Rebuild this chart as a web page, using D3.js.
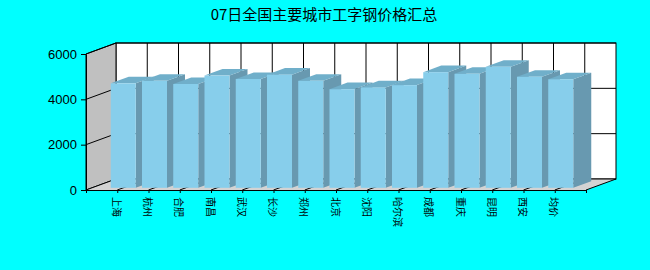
<html lang="zh">
<head>
	<meta charset="utf-8">
	<script src="https://cdn.jsdelivr.net/npm/d3@7/dist/d3.min.js"></script>
	<style>
		body { margin: 0; background: #00ffff; }
	</style>
</head>
<body>
	<script type="text/javascript">
		var w = 650;
		var h = 270;

		// chart data
		var cities = ["上海", "杭州", "合肥", "南昌", "武汉", "长沙", "郑州", "北京", "沈阳", "哈尔滨", "成都", "重庆", "昆明", "西安", "均价"];
		var prices = [4610, 4720, 4580, 4950, 4800, 4990, 4720, 4350, 4430, 4530, 5100, 5030, 5340, 4900, 4790];
		var yTicks = [0, 2000, 4000, 6000];
		var title = "07日全国主要城市工字钢价格汇总";

		var DX = 30, DY = -11; // depth of the 3d box
		var barHalf = 12.5;
		var d0 = 0.2, d1 = 0.8; // bar position inside the depth

		var svg = d3.select("body")
				.append("svg")
				.attr("width", w)
				.attr("height", h);

		var x = d3.scaleLinear().domain([0, cities.length + 1]).range([86, 586]);
		var y = d3.scaleLinear().domain([0, 6000]).range([190, 54]);

		function pts(a) { return a.map(function(p){ return p.join(","); }).join(" "); }

		svg.append("text")
			.attr("x", 324)
			.attr("y", 20)
			.attr("text-anchor", "middle")
			.style("font-family", "'Noto Sans CJK SC', sans-serif")
			.style("font-size", "15px")
			.text(title);

		var x0 = x(0), x1 = x(cities.length + 1), yb = y(0), yt = y(6000);

		// back wall
		svg.append("rect")
			.attr("x", x0 + DX).attr("y", yt + DY)
			.attr("width", x1 - x0).attr("height", yb - yt)
			.attr("fill", "white").attr("stroke", "black");

		// left wall
		svg.append("polygon")
			.attr("points", pts([[x0, yt], [x0 + DX, yt + DY], [x0 + DX, yb + DY], [x0, yb]]))
			.attr("fill", "#c0c0c0").attr("stroke", "black");

		// floor
		svg.append("polygon")
			.attr("points", pts([[x0, yb], [x1, yb], [x1 + DX, yb + DY], [x0 + DX, yb + DY]]))
			.attr("fill", "#d3d3d3").attr("stroke", "none");
		svg.append("line")
			.attr("x1", x1).attr("y1", yb).attr("x2", x1 + DX).attr("y2", yb + DY)
			.attr("stroke", "black");

		// grid lines
		yTicks.forEach(function(t){
			svg.append("line")
				.attr("x1", x0).attr("y1", y(t)).attr("x2", x0 + DX).attr("y2", y(t) + DY)
				.attr("stroke", "black");
			svg.append("line")
				.attr("x1", x0 + DX).attr("y1", y(t) + DY).attr("x2", x1 + DX).attr("y2", y(t) + DY)
				.attr("stroke", "black");
		});
		cities.forEach(function(c, i){
			var cx = x(i + 1);
			svg.append("line")
				.attr("x1", cx + DX).attr("y1", yt + DY).attr("x2", cx + DX).attr("y2", yb + DY)
				.attr("stroke", "black");
			svg.append("line")
				.attr("x1", cx).attr("y1", yb).attr("x2", cx + DX).attr("y2", yb + DY)
				.attr("stroke", "black");
		});

		// bars
		cities.forEach(function(c, i){
			var cx = x(i + 1);
			var L = cx - barHalf + d0 * DX, R = cx + barHalf + d0 * DX;
			var T = y(prices[i]) + d0 * DY, B = yb + d0 * DY;
			var ox = (d1 - d0) * DX, oy = (d1 - d0) * DY;
			var g = svg.append("g");
			g.append("polygon")
				.attr("points", pts([[R, T], [R + ox, T + oy], [R + ox, B + oy], [R, B]]))
				.attr("fill", "#6899b0");
			g.append("polygon")
				.attr("points", pts([[L, T], [R, T], [R + ox, T + oy], [L + ox, T + oy]]))
				.attr("fill", "#70afca");
			g.append("rect")
				.attr("x", L).attr("y", T).attr("width", R - L).attr("height", B - T)
				.attr("fill", "#87ceeb");
		});

		// axes
		var yAxis = d3.axisLeft(y).tickValues(yTicks).tickSize(5).tickSizeOuter(0).tickPadding(4).tickFormat(d3.format("d"));
		svg.append("g")
			.attr("transform", "translate(" + x0 + ",0)")
			.call(yAxis)
			.call(function(g){
				g.selectAll("text").style("font-family", "'Liberation Sans', Arial, sans-serif").style("font-size", "13px").attr("fill", "black");
				g.selectAll("line,path").attr("stroke", "black");
			});

		var xAxis = d3.axisBottom(x).tickValues(d3.range(cities.length + 2)).tickSize(3).tickSizeOuter(0).tickFormat("");
		svg.append("g")
			.attr("transform", "translate(0," + yb + ")")
			.call(xAxis)
			.call(function(g){ g.selectAll("line,path").attr("stroke", "black"); });

		svg.selectAll("text.cat")
			.data(cities)
			.enter()
			.append("text")
			.attr("class", "cat")
			.attr("transform", function(d, i){ return "translate(" + x(i + 1) + ",197) rotate(90)"; })
			.attr("dominant-baseline", "central")
			.style("font-family", "'Noto Sans CJK SC', sans-serif")
			.style("font-size", "10px")
			.text(function(d){ return d; });
	</script>
</body>
</html>
